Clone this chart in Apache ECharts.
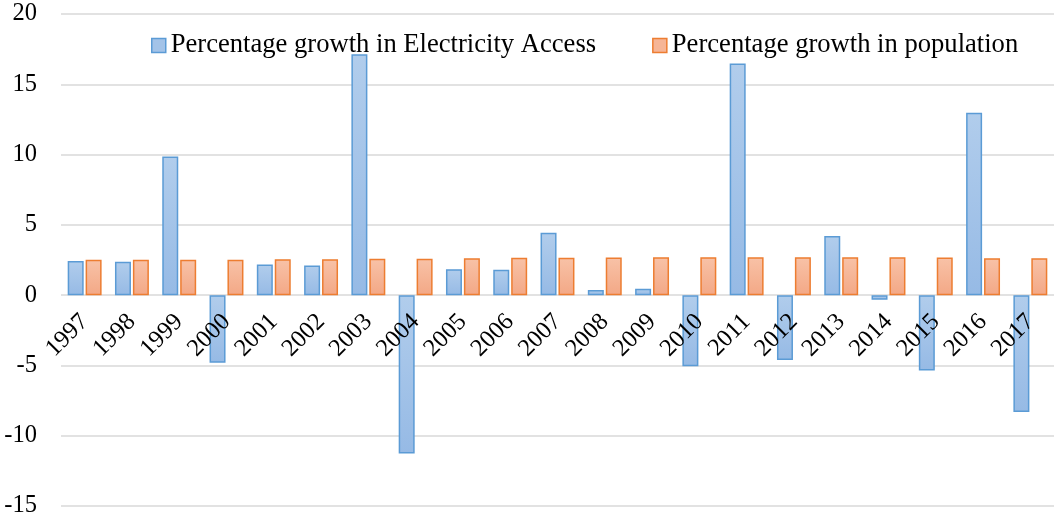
<!DOCTYPE html>
<html>
<head>
<meta charset="utf-8">
<script src="https://cdn.jsdelivr.net/npm/echarts@6/dist/echarts.min.js"></script>
<style>html,body{margin:0;padding:0;background:#fff}#c{width:1054px;height:517px}</style>
</head>
<body>
<div id="c"></div>
<script>
const years = ['1997','1998','1999','2000','2001','2002','2003','2004','2005','2006','2007','2008','2009','2010','2011','2012','2013','2014','2015','2016','2017'];
const electricityGrowth = [2.42, 2.37, 9.86, -4.81, 2.18, 2.11, 17.14, -11.26, 1.85, 1.80, 4.44, 0.36, 0.45, -5.05, 16.48, -4.62, 4.20, -0.33, -5.36, 12.97, -8.32];
const populationGrowth = [2.52, 2.52, 2.52, 2.52, 2.56, 2.56, 2.59, 2.59, 2.63, 2.66, 2.66, 2.68, 2.70, 2.70, 2.70, 2.70, 2.70, 2.70, 2.68, 2.63, 2.63];
const yTicks = [-15, -10, -5, 0, 5, 10, 15, 20];
const seriesNames = ['Percentage growth in Electricity Access', 'Percentage growth in population'];

const font = '"Liberation Serif", "DejaVu Serif", serif';
const chart = echarts.init(document.getElementById('c'));
const blueFill = new echarts.graphic.LinearGradient(0,0,0,1,[{offset:0,color:'#b1cdec'},{offset:1,color:'#96bae5'}]);
const orangeFill = new echarts.graphic.LinearGradient(0,0,0,1,[{offset:0,color:'#f8c2a7'},{offset:1,color:'#f3a886'}]);

const gridTop = 14, gridBottom = 11, chartH = 517;
const plotH = chartH - gridTop - gridBottom;
const yMin = yTicks[0], yMax = yTicks[yTicks.length-1];
// move the category axis up to the zero line
const zeroOffset = -plotH * (0 - yMin) / (yMax - yMin);

chart.setOption({
  animation: false,
  backgroundColor: '#fff',
  grid: {left: 61, right: 0, top: gridTop, bottom: gridBottom, containLabel: false, outerBoundsMode: 'none'},
  legend: {
    top: 27, left: 146,
    itemWidth: 14, itemHeight: 14, itemGap: 56,
    textStyle: {fontFamily: font, fontSize: 26.6, color: '#000'},
    data: [
      {name: seriesNames[0], icon: 'rect', itemStyle: {color: '#a3c3e8', borderColor: '#5b9bd5', borderWidth: 1.5}},
      {name: seriesNames[1], icon: 'rect', itemStyle: {color: '#f6b596', borderColor: '#ed7d31', borderWidth: 1.5}}
    ]
  },
  xAxis: {
    type: 'category', data: years, position: 'bottom', offset: zeroOffset, z: 10,
    axisLine: {show: false, onZero: false},
    axisTick: {show: false},
    axisLabel: {rotate: 45, fontFamily: font, fontSize: 24.5, color: '#000', margin: 23, interval: 0}
  },
  yAxis: {
    type: 'value', min: yMin, max: yMax, interval: 5,
    axisLine: {show: false}, axisTick: {show: false},
    axisLabel: {fontFamily: font, fontSize: 24.5, color: '#000', margin: 24},
    splitLine: {lineStyle: {color: '#d9d9d9', width: 1.5}}
  },
  series: [
    {name: seriesNames[0], type: 'bar', data: electricityGrowth, barWidth: 16, barGap: '12%',
     itemStyle: {color: blueFill, borderColor: '#5b9bd5', borderWidth: 1.5}},
    {name: seriesNames[1], type: 'bar', data: populationGrowth, barWidth: 16,
     itemStyle: {color: orangeFill, borderColor: '#ed7d31', borderWidth: 1.5}}
  ]
});
</script>
</body>
</html>
